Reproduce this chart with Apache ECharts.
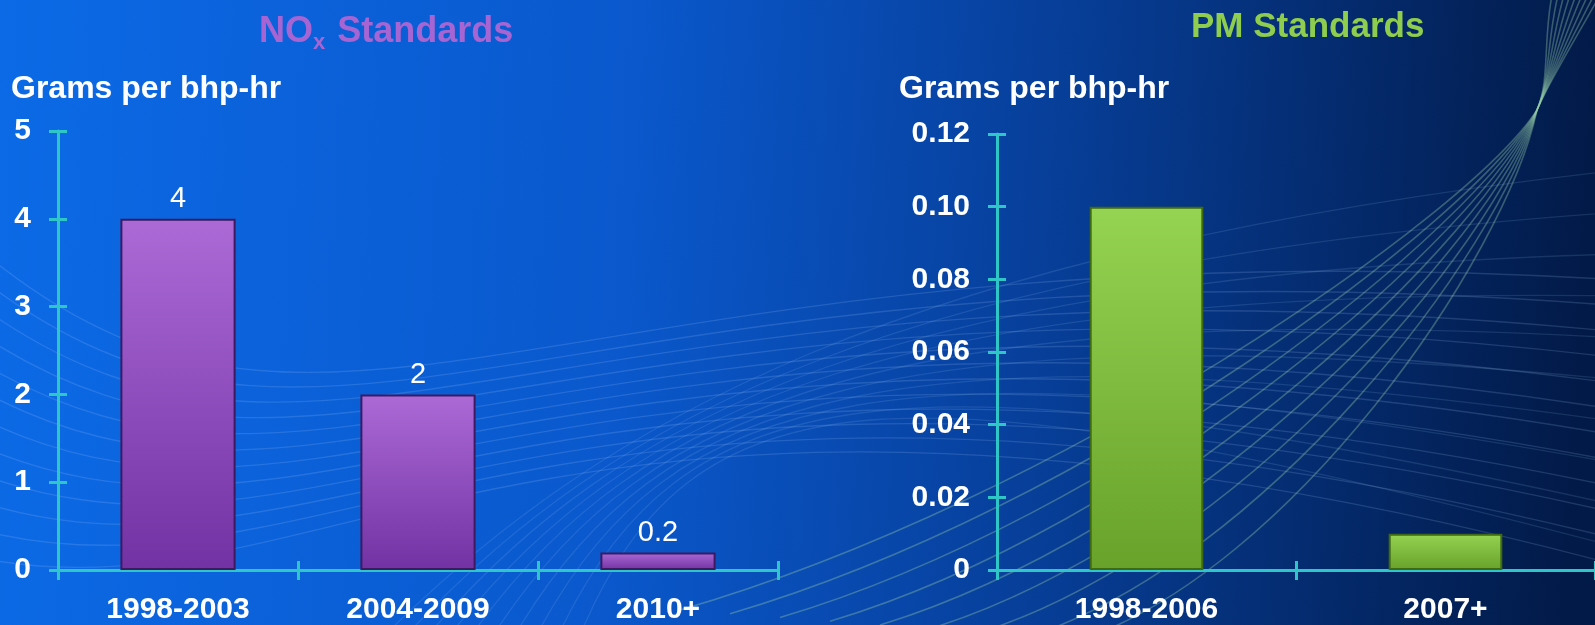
<!DOCTYPE html>
<html>
<head>
<meta charset="utf-8">
<script src="https://cdn.jsdelivr.net/npm/echarts@6/dist/echarts.min.js"></script>
<style>
  html, body { margin: 0; padding: 0; background: #0a4fc0; }
  #chart { width: 1595px; height: 625px; }
</style>
</head>
<body>
<div id="chart"></div>
<script>
// NOx emission standards (grams per bhp-hr)
const noxCategories = ['1998-2003', '2004-2009', '2010+'];
const noxValues = [4, 2, 0.2];
const noxTicks = [0, 1, 2, 3, 4, 5];

// PM emission standards (grams per bhp-hr)
const pmCategories = ['1998-2006', '2007+'];
const pmValues = [0.1, 0.01];
const pmTicks = [0, 0.02, 0.04, 0.06, 0.08, 0.10, 0.12];

const FONT = '"Liberation Sans", Arial, sans-serif';
const AXIS_COLOR = '#2fc6c8';

const chart = echarts.init(document.getElementById('chart'), null, { renderer: 'canvas' });

// Decorative sweeping lines in the background
const deco = [];
function curve(x1, y1, cpx1, cpy1, cpx2, cpy2, x2, y2, stroke, w) {
  deco.push({
    type: 'bezierCurve', silent: true, z: 0,
    shape: { x1, y1, cpx1, cpy1, cpx2, cpy2, x2, y2 },
    style: { stroke, lineWidth: w, fill: null }
  });
}
function mix(a, b, t) { return a + (b - a) * t; }
// green bundle crossing near the top right corner
for (let k = 0; k < 9; k++) {
  const g = 'rgba(150,205,165,0.36)';
  const t = k / 8;
  curve(1600 - k * 6, -5, 1575 - k * 4, 40, 1550, 80, 1537, 110, g, 1.6);
  curve(1537, 110,
    mix(1470, 1505, t), mix(215, 260, t),
    mix(1060, 1290, t), mix(500, 570, t),
    mix(680, 1080, t), mix(610, 640, t), g, 1.6);
}
// wave bundle running across the whole slide
for (let i = 0; i < 12; i++) {
  curve(-20, 250 + i * 28, 330, 540 + i * 8, 560, 215 + i * 6, 1620, 280 + i * 26,
    'rgba(170,210,255,0.17)', 1.4);
}
// lines rising from the bottom
for (let i = 0; i < 10; i++) {
  curve(380 + i * 22, 640, 600 + i * 10, 420 - i * 6, 900, 250 + i * 12, 1620, 170 + i * 42,
    'rgba(170,215,255,0.13)', 1.3);
}

function barGradient(top, bottom) {
  return new echarts.graphic.LinearGradient(0, 0, 0, 1, [
    { offset: 0, color: top }, { offset: 1, color: bottom }
  ]);
}

function xAxisPair(gridIndex, cats) {
  const base = {
    type: 'category', gridIndex, data: cats, position: 'bottom',
    boundaryGap: true
  };
  return [
    Object.assign({}, base, {
      axisLine: { show: true, lineStyle: { color: AXIS_COLOR, width: 3 } },
      axisTick: { show: true, inside: false, length: 10, lineStyle: { color: AXIS_COLOR, width: 3 } },
      axisLabel: { color: '#fff', fontFamily: FONT, fontWeight: 'bold', fontSize: 30, margin: 25 }
    }),
    Object.assign({}, base, {
      axisLine: { show: false },
      axisTick: { show: true, inside: true, length: 9, lineStyle: { color: AXIS_COLOR, width: 3 } },
      axisLabel: { show: false }
    })
  ];
}

function yAxisPair(gridIndex, max, interval, fmt) {
  const base = { type: 'value', gridIndex, min: 0, max, interval, position: 'left', splitLine: { show: false } };
  return [
    Object.assign({}, base, {
      axisLine: { show: true, lineStyle: { color: AXIS_COLOR, width: 3 } },
      axisTick: { show: true, inside: false, length: 9, lineStyle: { color: AXIS_COLOR, width: 3 } },
      axisLabel: { color: '#fff', fontFamily: FONT, fontWeight: 'bold', fontSize: 30, margin: 27, formatter: fmt }
    }),
    Object.assign({}, base, {
      axisLine: { show: false },
      axisTick: { show: true, inside: true, length: 9, lineStyle: { color: AXIS_COLOR, width: 3 } },
      axisLabel: { show: false }
    })
  ];
}

const option = {
  backgroundColor: new echarts.graphic.LinearGradient(0, 0, 1, 0.15, [
    { offset: 0, color: '#0c6ae6' },
    { offset: 0.4, color: '#0a58cc' },
    { offset: 0.65, color: '#07409c' },
    { offset: 1, color: '#021a48' }
  ]),
  animation: false,
  graphic: deco,
  title: [
    {
      text: '{a|NO}{s|x}{a| Standards}', left: 254, top: 5,
      textStyle: {
        rich: {
          a: { color: '#a665d2', fontFamily: FONT, fontWeight: 'bold', fontSize: 36 },
          s: { color: '#a665d2', fontFamily: FONT, fontWeight: 'bold', fontSize: 22, padding: [22, 2, 0, 0] }
        }
      }
    },
    {
      text: 'PM Standards', left: 1186, top: 5,
      textStyle: { color: '#8fcd4e', fontFamily: FONT, fontWeight: 'bold', fontSize: 35 }
    },
    {
      text: 'Grams per bhp-hr', left: 6, top: 68,
      textStyle: { color: '#fff', fontFamily: FONT, fontWeight: 'bold', fontSize: 32 }
    },
    {
      text: 'Grams per bhp-hr', left: 894, top: 68,
      textStyle: { color: '#fff', fontFamily: FONT, fontWeight: 'bold', fontSize: 32 }
    }
  ],
  grid: [
    { left: 58, right: 817, top: 131, bottom: 51 },
    { left: 997, right: -5, top: 134, bottom: 51 }
  ],
  xAxis: [].concat(xAxisPair(0, noxCategories), xAxisPair(1, pmCategories)),
  yAxis: [].concat(
    yAxisPair(0, noxTicks[noxTicks.length - 1], noxTicks[1], v => String(v)),
    yAxisPair(1, pmTicks[pmTicks.length - 1], pmTicks[1], v => (v === 0 ? '0' : v.toFixed(2)))
  ),
  series: [
    {
      type: 'bar', xAxisIndex: 0, yAxisIndex: 0, data: noxValues,
      barWidth: '48%', z: 3,
      itemStyle: {
        color: barGradient('#ab6ad6', '#7232a3'),
        borderColor: '#3c1a62', borderWidth: 2
      },
      label: {
        show: true, position: 'top', distance: 5, color: '#fff',
        fontFamily: FONT, fontSize: 29,
        formatter: p => String(p.value)
      }
    },
    {
      type: 'bar', xAxisIndex: 2, yAxisIndex: 2, data: pmValues,
      barWidth: '38%', z: 3,
      itemStyle: {
        color: barGradient('#95d352', '#68a22a'),
        borderColor: '#3f6a12', borderWidth: 2
      }
    }
  ]
};

chart.setOption(option);
</script>
</body>
</html>
